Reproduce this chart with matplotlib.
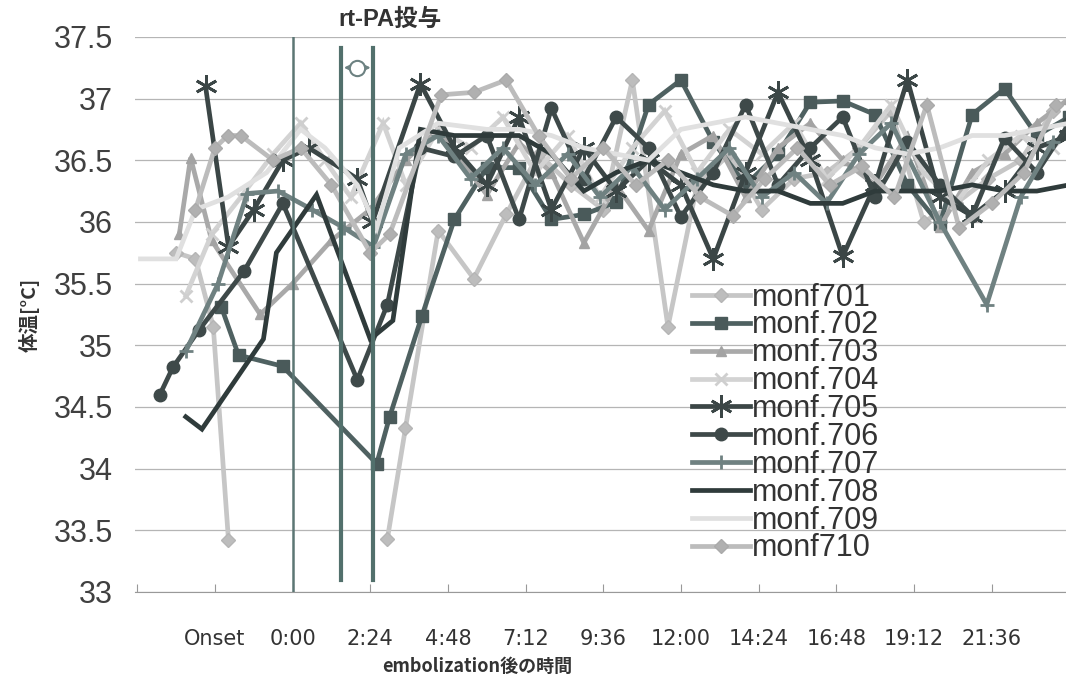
import numpy as np
import matplotlib
matplotlib.use("Agg")
import matplotlib.pyplot as plt

# hours after embolization (negative = before onset) and body temperature
h701 = [-3.6, -3.0, -2.45, -1.98, 0.5, 2.93, 3.49, 4.5, 5.6, 6.6, 7.6, 8.6, 9.6, 10.5, 11.6, 12.5,
        13.5, 14.5, 15.5, 16.5, 17.5, 18.5, 19.5, 20.5, 21.5, 22.5, 23.5]
t701 = [35.75, 35.7, 35.15, 33.42, np.nan, 33.43, 34.33, 35.93, 35.54, 36.06, 36.55, 36.3, 36.1, 37.15,
        35.15, 36.3, 36.55, 36.1, 36.35, 36.4, 36.6, 36.9, 36.0, 36.15, 36.35, 36.5, 36.9]

h702 = [-2.2, -1.67, -0.31, 2.6, 3.0, 4.0] + list(range(5, 25))
t702 = [35.31, 34.92, 34.83, 34.04, 34.42, 35.24, 36.02, 36.44, 36.44, 36.02, 36.06, 36.16, 36.95,
        37.15, 36.65, 36.3, 36.55, 36.97, 36.98, 36.87, 36.3, 35.98, 36.87, 37.08, 36.7, 36.85]

h703 = [-3.5, -3.15, -2.5, -1.0, 0.0, 1.2, 2.4, 3.5, 4.5] + list(range(6, 25))
t703 = [35.9, 36.52, 35.85, 35.25, 35.5, 35.85, 36.1, 36.5, 36.75, 36.22, 36.64, 36.4, 35.83, 36.3,
        35.93, 36.55, 36.7, 36.2, 36.6, 36.8, 36.5, 36.3, 36.7, 35.96, 36.4, 36.55, 36.8, 37.0]

h704 = [-3.3, -2.5, -1.6, -0.6, 0.25, 1.0, 1.8, 2.8, 3.5, 4.5, 5.5, 6.5, 7.5, 8.5, 9.5, 10.5, 11.5,
        12.5, 13.5, 14.5, 15.5, 16.5, 17.5, 18.5, 19.5, 20.5, 21.5, 22.5, 23.5]
t704 = [35.4, 35.9, 36.2, 36.55, 36.8, 36.5, 36.2, 36.8, 36.3, 36.75, 36.6, 36.85, 36.4, 36.7, 36.2,
        36.6, 36.9, 36.4, 36.75, 36.55, 36.8, 36.35, 36.6, 36.95, 36.4, 36.15, 36.5, 36.7, 36.6]

h705 = [-2.69, -1.98, -1.2, -0.3, 0.5, 2.0, 2.47, 3.95] + list(range(5, 25))
t705 = [37.1, 35.8, 36.1, 36.5, 36.6, 36.35, 36.0, 37.12, 36.6, 36.3, 36.85, 36.1, 36.6, 36.25, 36.5,
        36.3, 35.7, 36.4, 37.05, 36.5, 35.72, 36.3, 37.15, 36.2, 36.05, 36.25, 36.6, 36.7]

h706 = [-4.1, -3.7, -2.9, -1.5, -0.3, 2.0, 2.93, 3.95] + list(range(5, 25))
t706 = [34.6, 34.82, 35.12, 35.6, 36.15, 34.72, 35.33, 36.6, 36.53, 36.7, 36.02, 36.92, 36.35, 36.85,
        36.6, 36.04, 36.4, 36.95, 36.3, 36.6, 36.85, 36.2, 36.65, 36.3, 36.05, 36.68, 36.4, 36.8]

h707 = [-3.3, -2.3, -1.4, -0.45, 0.6, 1.6, 2.5, 3.5, 4.5, 5.5, 6.5, 7.5, 8.5, 9.5, 10.5, 11.5, 12.5,
        13.5, 14.5, 15.5, 16.5, 17.5, 18.5, 20.0, 21.45, 22.5, 23.5]
t707 = [34.95, 35.5, 36.23, 36.25, 36.1, 35.95, 35.8, 36.55, 36.7, 36.35, 36.6, 36.3, 36.55, 36.2,
        36.45, 36.1, 36.35, 36.6, 36.2, 36.4, 36.15, 36.55, 36.8, 36.0, 35.33, 36.2, 36.65]

h708 = [-3.3, -2.8, -0.9, -0.5, 0.74, 2.4, 3.1, 3.95] + list(range(5, 25))
t708 = [34.42, 34.32, 35.05, 35.75, 36.22, 35.05, 35.2, 36.75, 36.7, 36.7, 36.7, 36.55, 36.25, 36.4,
        36.5, 36.4, 36.3, 36.25, 36.25, 36.15, 36.15, 36.25, 36.25, 36.25, 36.3, 36.25, 36.25, 36.3]

h709 = [-4.7, -3.6, -3.0, -2.0, -0.8, 0.25, 1.0, 2.0, 2.6, 3.3, 4.5] + list(range(6, 25))
t709 = [35.7, 35.7, 36.1, 36.2, 36.4, 36.75, 36.6, 36.3, 35.95, 36.6, 36.8, 36.75, 36.75, 36.7, 36.6,
        36.55, 36.5, 36.75, 36.8, 36.85, 36.8, 36.75, 36.7, 36.6, 36.55, 36.6, 36.7, 36.7, 36.75, 36.8]

h710 = [-3.0, -2.4, -2.0, -1.6, -0.6, 0.25, 1.2, 2.4, 3.0, 4.6, 5.6, 6.6, 7.6, 8.6, 9.6, 10.6, 11.6,
        12.6, 13.6, 14.6, 15.6, 16.6, 17.6, 18.6, 19.6, 20.6, 21.6, 22.6, 23.6]
t710 = [36.1, 36.6, 36.7, 36.7, 36.5, 36.6, 36.3, 35.75, 35.9, 37.03, 37.05, 37.15, 36.7, 36.35, 36.6,
        36.3, 36.5, 36.2, 36.05, 36.35, 36.6, 36.3, 36.45, 36.2, 36.95, 35.95, 36.15, 36.4, 36.95]

tick_hours = [-4.8, -2.4, 0, 2.4, 4.8, 7.2, 9.6, 12, 14.4, 16.8, 19.2, 21.6]
tick_labels = ["", "Onset", "0:00", "2:24", "4:48", "7:12", "9:36", "12:00", "14:24", "16:48",
               "19:12", "21:36"]
yticks = [33, 33.5, 34, 34.5, 35, 35.5, 36, 36.5, 37, 37.5]
rtpa_start, rtpa_end = 1.5, 2.5

plt.rcParams["font.family"] = ["Liberation Sans", "Noto Sans CJK JP", "DejaVu Sans"]

series = [
    ("monf701", h701, t701, dict(color="#c6c6c6", marker="D", ms=7, mfc="#bdbdbd", mec="#b5b5b5")),
    ("monf.702", h702, t702, dict(color="#4f6161", marker="s", ms=8, mfc="#4a5a5a", mec="#4a5a5a")),
    ("monf.703", h703, t703, dict(color="#a9a9a9", marker="^", ms=7, mfc="#a3a3a3", mec="#a3a3a3")),
    ("monf.704", h704, t704, dict(color="#d3d3d3", marker="x", ms=9, mew=2, mec="#cfcfcf")),
    ("monf.705", h705, t705, dict(color="#3b4646", marker=(6, 2, 0), ms=16, mew=2, mec="#3b4646")),
    ("monf.706", h706, t706, dict(color="#3e4949", marker="o", ms=9, mfc="#3e4949", mec="#3e4949")),
    ("monf.707", h707, t707, dict(color="#6f8181", marker="+", ms=10, mew=2, mec="#6f8181")),
    ("monf.708", h708, t708, dict(color="#2f3b3b")),
    ("monf.709", h709, t709, dict(color="#e0e0e0")),
    ("monf710", h710, t710, dict(color="#bcbcbc", marker="D", ms=7, mfc="#b0b0b0", mec="#aaaaaa")),
]

fig = plt.figure(figsize=(10.66, 6.82), dpi=100)
ax = fig.add_axes([0.1266, 0.132, 0.8734, 0.814])

for label, hx, ty, style in series:
    ax.plot(hx, ty, lw=3.4, label=label, solid_joinstyle="miter", **style)

# onset and rt-PA administration window
ax.axvline(0, color="#5c7674", lw=1.8, zorder=5)
for xv in (rtpa_start, rtpa_end):
    ax.plot([xv, xv], [33.1, 37.41], color="#52706c", lw=3, zorder=5)
ax.annotate("", xy=(rtpa_start, 37.25), xytext=(rtpa_end, 37.25),
            arrowprops=dict(arrowstyle="<->", color="#6d8282", lw=1.5), zorder=6)
ax.plot([(rtpa_start + rtpa_end) / 2], [37.25], marker="o", ms=11, mfc="white",
        mec="#6d8282", mew=1.5, zorder=7)
fig.text(0.366, 0.972, "rt-PA投与", fontsize=17, fontweight="bold", color="#333333",
         ha="center", va="center")

ax.set_xlim(-4.87, 23.9)
ax.set_ylim(33, 37.5)
ax.set_yticks(yticks)
ax.set_yticklabels([f"{v:g}" for v in yticks], fontsize=22, color="#404040")
ax.set_xticks(tick_hours)
ax.set_xticklabels(tick_labels, fontsize=15, color="#333333", family=["DejaVu Sans"])
ax.tick_params(axis="y", length=0, pad=16)
ax.tick_params(axis="x", direction="in", length=6, color="#999999", pad=27)
ax.grid(axis="y", color="#b5b5b5", lw=0.9)
ax.set_axisbelow(True)
for side in ("left", "right", "top"):
    ax.spines[side].set_visible(False)
ax.spines["bottom"].set_color("#999999")

ax.set_ylabel("体温[°C]", fontsize=14, fontweight="bold", color="#333333",
              family=["Noto Sans CJK JP"], labelpad=10)
ax.set_xlabel("embolization後の時間", fontsize=13, fontweight="bold", color="#333333",
              family=["Noto Sans CJK JP"])
ax.xaxis.set_label_coords(0.368, -0.117)

leg = ax.legend(loc="upper left", bbox_to_anchor=(0.635, 0.608), bbox_transform=fig.transFigure,
                frameon=False, fontsize=22, labelspacing=-0.07, handlelength=1.9,
                handletextpad=0.05, borderpad=0)
for txt in leg.get_texts():
    txt.set_color("#333333")

fig.savefig("out.png", dpi=100)
